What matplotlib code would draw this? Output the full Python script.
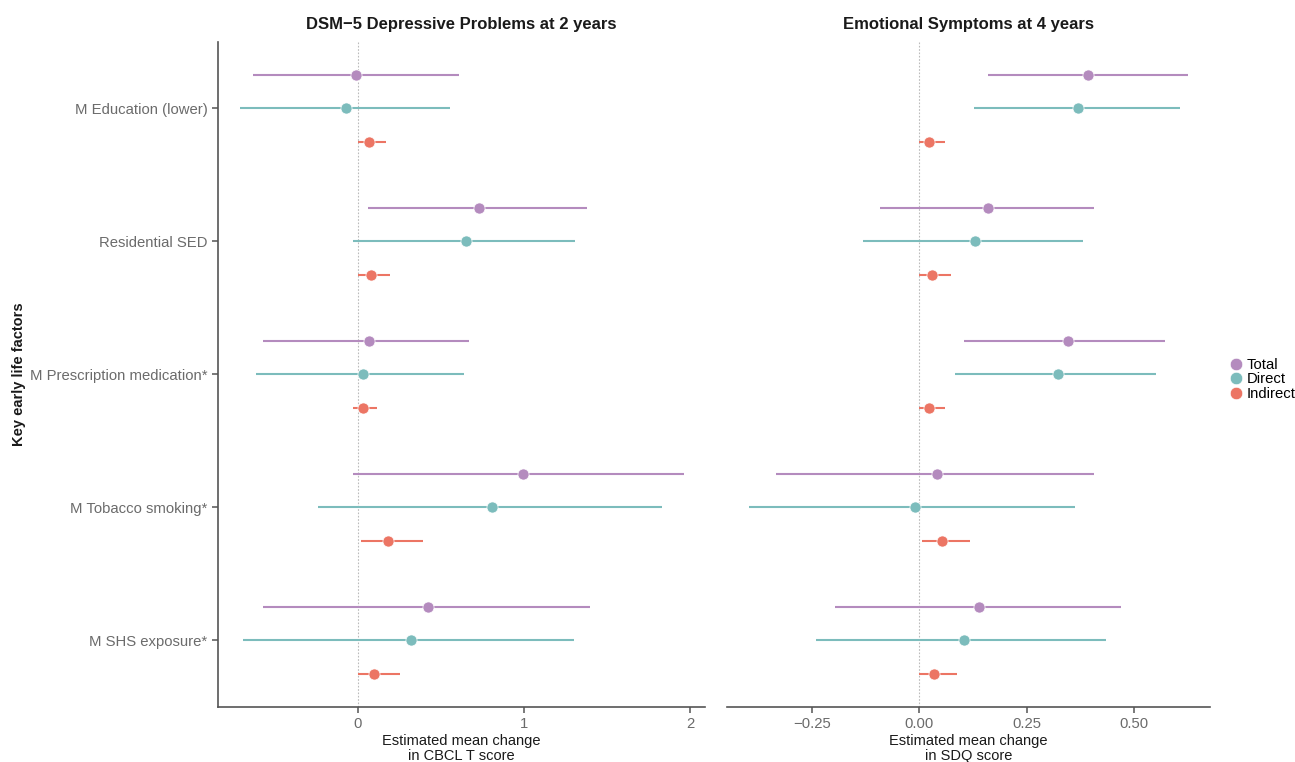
import numpy as np
import matplotlib
matplotlib.use('Agg')
import matplotlib.pyplot as plt
from matplotlib.lines import Line2D

factors = ['M Education (lower)', 'Residential SED', 'M Prescription medication*',
           'M Tobacco smoking*', 'M SHS exposure*']
effects = ['Total', 'Direct', 'Indirect']
colors = {'Total': '#B48BBE', 'Direct': '#7CBCBC', 'Indirect': '#EC7564'}

# DSM-5 depressive problems at 2 years (CBCL T score)
cbcl_est = {
    'Total':    [-0.01, 0.73, 0.067, 0.995, 0.423],
    'Direct':   [-0.07, 0.65, 0.030, 0.810, 0.324],
    'Indirect': [0.067, 0.08, 0.033, 0.184, 0.098],
}
cbcl_lo = {
    'Total':    [-0.63, 0.063, -0.57, -0.03, -0.567],
    'Direct':   [-0.71, -0.03, -0.61, -0.236, -0.69],
    'Indirect': [0.0, 0.0, -0.027, 0.021, 0.0],
}
cbcl_hi = {
    'Total':    [0.61, 1.38, 0.67, 1.965, 1.40],
    'Direct':   [0.555, 1.31, 0.64, 1.834, 1.304],
    'Indirect': [0.17, 0.196, 0.12, 0.396, 0.256],
}

# Emotional symptoms at 4 years (SDQ score)
sdq_est = {
    'Total':    [0.393, 0.16, 0.345, 0.041, 0.139],
    'Direct':   [0.370, 0.13, 0.323, -0.011, 0.105],
    'Indirect': [0.023, 0.03, 0.023, 0.052, 0.034],
}
sdq_lo = {
    'Total':    [0.16, -0.091, 0.104, -0.334, -0.195],
    'Direct':   [0.127, -0.13, 0.083, -0.395, -0.24],
    'Indirect': [0.0, 0.0, 0.0, 0.006, 0.0],
}
sdq_hi = {
    'Total':    [0.624, 0.407, 0.572, 0.406, 0.47],
    'Direct':   [0.605, 0.38, 0.551, 0.361, 0.433],
    'Indirect': [0.06, 0.073, 0.059, 0.117, 0.087],
}

plt.rcParams['font.family'] = ['Liberation Sans', 'DejaVu Sans']

fig = plt.figure(figsize=(12.95, 7.62), dpi=100)
ax1 = fig.add_axes([0.1683, 0.0722, 0.376, 0.8727])
ax2 = fig.add_axes([0.5614, 0.0722, 0.373, 0.8727])

offsets = {'Total': -0.25, 'Direct': 0.0, 'Indirect': 0.25}
ypos = np.arange(len(factors))


def draw_panel(ax, est, lo, hi, title, xlabel, xlim, xticks, xticklabels):
    ax.axvline(0, color='#BBBBBB', lw=0.8, ls=(0, (1.5, 1.5)), zorder=0)
    for eff in effects:
        y = ypos + offsets[eff]
        ax.hlines(y, lo[eff], hi[eff], color=colors[eff], lw=1.5, zorder=2)
        ax.plot(est[eff], y, 'o', color=colors[eff], ms=8, mec='white', mew=0.5, zorder=3)
    ax.set_ylim(len(factors) - 0.5, -0.5)
    ax.set_xlim(*xlim)
    ax.set_xticks(xticks)
    ax.set_xticklabels(xticklabels)
    ax.set_title(title, fontsize=12, fontweight='bold', pad=9, color='#1A1A1A')
    ax.set_xlabel(xlabel, fontsize=10.5, linespacing=1.1, labelpad=2, color='#1A1A1A')
    for s in ['top', 'right']:
        ax.spines[s].set_visible(False)
    for s in ['left', 'bottom']:
        ax.spines[s].set_color('#555555')
        ax.spines[s].set_linewidth(1.2)
    ax.tick_params(axis='both', colors='#555555', labelcolor='#6B6B6B',
                   labelsize=10.7, length=4, width=1.1)


draw_panel(ax1, cbcl_est, cbcl_lo, cbcl_hi, 'DSM\u22125 Depressive Problems at 2 years',
           'Estimated mean change\nin CBCL T score', (-0.84, 2.09), [0, 1, 2], ['0', '1', '2'])
ax1.set_yticks(ypos)
ax1.set_yticklabels(factors)
ax1.set_ylabel('Key early life factors', fontsize=10.5, fontweight='bold', labelpad=3,
               color='#1A1A1A')

draw_panel(ax2, sdq_est, sdq_lo, sdq_hi, 'Emotional Symptoms at 4 years',
           'Estimated mean change\nin SDQ score', (-0.447, 0.676),
           [-0.25, 0, 0.25, 0.5], ['\u22120.25', '0.00', '0.25', '0.50'])
ax2.set_yticks([])
ax2.spines['left'].set_visible(False)

handles = [Line2D([], [], marker='o', ls='', color=colors[e], ms=9, mec='white', mew=0.5)
           for e in effects]
fig.legend(handles, effects, loc='center left', bbox_to_anchor=(0.943, 0.502),
           frameon=False, fontsize=10.7, handletextpad=0.2, labelspacing=0.05,
           borderpad=0, handlelength=1.0)

fig.savefig('out.png', dpi=100)
